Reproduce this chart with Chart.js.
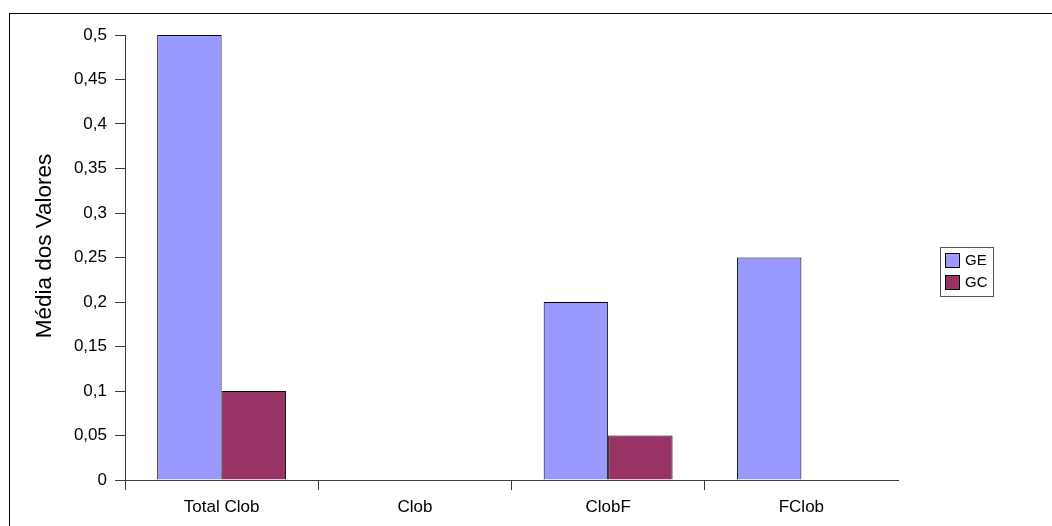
<!DOCTYPE html>
<html>
<head>
<meta charset="utf-8">
<script src="https://cdn.jsdelivr.net/npm/chart.js@4.4.1/dist/chart.umd.min.js"></script>
<style>
  html, body { margin: 0; padding: 0; background: #fff; overflow: hidden; }
  #wrap { position: relative; width: 1052px; height: 526px; }
  #frame { position: absolute; left: 9px; top: 13px; width: 1100px; height: 600px;
           border-left: 1px solid #000; border-top: 1px solid #000; pointer-events: none; }
  canvas { position: absolute; left: 0; top: 0; }
</style>
</head>
<body>
<div id="wrap">
  <div id="frame"></div>
  <canvas id="myChart" width="1052" height="526"></canvas>
</div>
<script>
const categories = ['Total Clob', 'Clob', 'ClobF', 'FClob'];
const seriesNames = ['GE', 'GC'];
const geValues = [0.5, 0, 0.2, 0.25];
const gcValues = [0.1, 0, 0.05, 0];
const yTitle = 'Média dos Valores';
const yMax = 0.5;
const yStep = 0.05;

const colors = ['#9999FF', '#993366'];
const axisColor = '#3a3a3a';
const fontFamily = '"Liberation Sans", Arial, sans-serif';

// legend box and axis title drawn by hand, Excel style
const excelBits = {
	id: 'excelBits',
	afterDraw(chart) {
		const ctx = chart.ctx;
		ctx.save();
		ctx.strokeStyle = '#555';
		ctx.lineWidth = 1;
		ctx.strokeRect(940.5, 247.5, 53, 49);
		ctx.font = '15px ' + fontFamily;
		ctx.textBaseline = 'middle';
		chart.data.datasets.forEach((ds, i) => {
			const y = 253.5 + i * 22;
			ctx.fillStyle = ds.backgroundColor;
			ctx.fillRect(945.5, y, 14, 14);
			ctx.strokeStyle = '#000';
			ctx.strokeRect(945.5, y, 14, 14);
			ctx.fillStyle = '#000';
			ctx.fillText(ds.label, 965, y + 7.5);
		});
		// y title, centred a bit above the plot middle like the original
		ctx.translate(45, 246);
		ctx.rotate(-Math.PI / 2);
		ctx.textAlign = 'center';
		ctx.font = '22.5px ' + fontFamily;
		ctx.fillText(yTitle, 0, 0);
		ctx.restore();
	}
};

const ctx = document.getElementById('myChart');
const myChart = new Chart(ctx, {
	type: 'bar',
	data: {
		labels: categories,
		datasets: [
			{
				label: seriesNames[0],
				data: geValues,
				backgroundColor: colors[0],
				borderColor: '#000',
				borderWidth: 1
			},
			{
				label: seriesNames[1],
				data: gcValues,
				backgroundColor: colors[1],
				borderColor: '#000',
				borderWidth: 1
			}
		]
	},
	options: {
		responsive: false,
		animation: false,
		devicePixelRatio: 1,
		categoryPercentage: 0.667,
		barPercentage: 1.0,
		layout: {
			padding: { left: 0, top: 35, right: 154, bottom: 0 }
		},
		plugins: {
			legend: { display: false },
			tooltip: { enabled: false }
		},
		scales: {
			x: {
				afterFit: (s) => { s.height = 46; },
				grid: {
					offset: true,
					drawOnChartArea: false,
					drawTicks: true,
					tickLength: 10,
					// no tick mark at the far right end
					tickColor: (c) => (c.type === 'tick' ? axisColor : 'transparent')
				},
				border: { color: axisColor, width: 1 },
				ticks: {
					padding: 7,
					color: '#000',
					font: { family: fontFamily, size: 17 }
				}
			},
			y: {
				min: 0,
				max: yMax,
				afterFit: (s) => { s.width = 125; },
				grid: {
					drawOnChartArea: false,
					drawTicks: true,
					tickLength: 10,
					tickColor: axisColor
				},
				border: { color: axisColor, width: 1 },
				ticks: {
					stepSize: yStep,
					padding: 8,
					color: '#000',
					font: { family: fontFamily, size: 17 },
					callback: (v) => String(parseFloat(v.toFixed(2))).replace('.', ',')
				}
			}
		}
	},
	plugins: [excelBits]
});
</script>
</body>
</html>
